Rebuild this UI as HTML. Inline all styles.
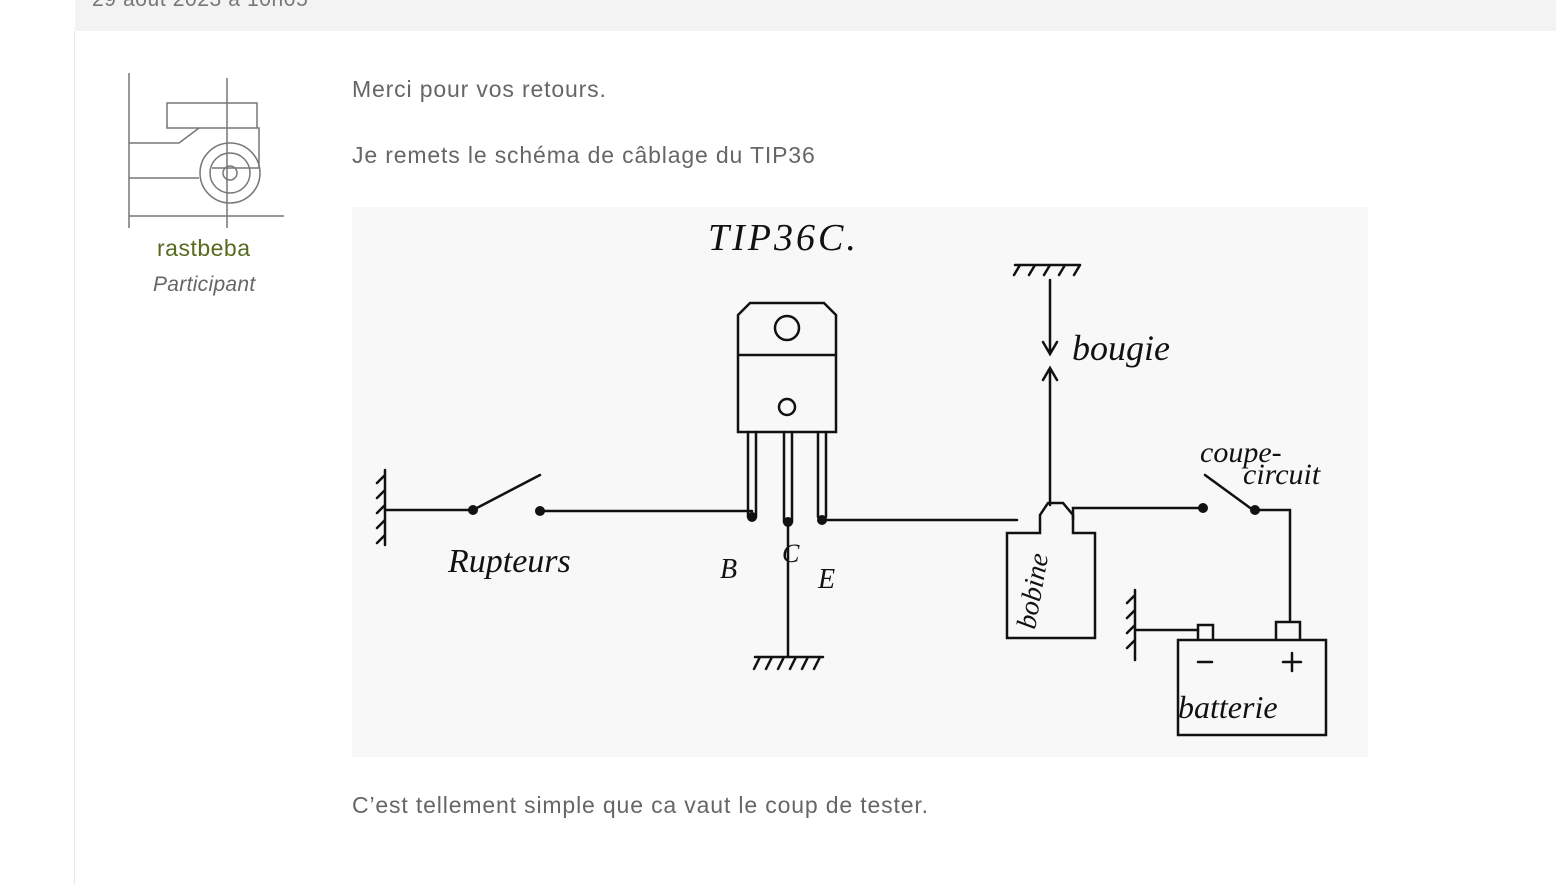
<!DOCTYPE html>
<html><head><meta charset="utf-8"><style>
body{margin:0;width:1556px;height:884px;background:#fff;font-family:"Liberation Sans",sans-serif;overflow:hidden;position:relative;color:#666}
.top{position:absolute;left:75px;top:0;width:1481px;height:31px;background:#f3f3f3}
.top span{position:absolute;left:17px;top:-12px;font-size:21px;color:#777;letter-spacing:0.6px}
.vline{position:absolute;left:74px;top:31px;width:1px;height:853px;background:#e6e6e6}
.t{position:absolute;font-size:23px;color:#666;letter-spacing:0.85px}
</style></head><body>
<div class="top"><span>29 août 2023 à 10h05</span></div>
<div class="vline"></div>
<svg style="position:absolute;left:127px;top:73px" width="158" height="158" viewBox="0 0 158 158">
<rect width="158" height="158" fill="#fff"/>
<g fill="none" stroke="#777" stroke-width="1.5">
<path d="M2 0v155M2 143h155M100 5v150M40 30h90v25H40z M2 70h50l20-15h60v40H85 M2 105h70"/>
<circle cx="103" cy="100" r="30"/><circle cx="103" cy="100" r="20"/><circle cx="103" cy="100" r="7"/>
</g></svg>
<div class="t" style="left:157px;top:235px;color:#556b1f;font-size:23px;letter-spacing:0.5px">rastbeba</div>
<div class="t" style="left:153px;top:273px;font-style:italic;font-size:21px;letter-spacing:0.3px">Participant</div>
<div class="t" style="left:352px;top:76px">Merci pour vos retours.</div>
<div class="t" style="left:352px;top:142px">Je remets le schéma de câblage du TIP36</div>
<div class="t" style="left:352px;top:792px">C’est tellement simple que ca vaut le coup de tester.</div>
<svg style="position:absolute;left:352px;top:207px" width="1016" height="550" viewBox="352 207 1016 550">
<rect x="352" y="207" width="1016" height="550" fill="#f8f8f8"/>
<g fill="none" stroke="#111" stroke-width="2.5" stroke-linecap="round">
<path d="M385 470v75M385 475l-8 8M385 490l-8 8M385 505l-8 8M385 520l-8 8M385 535l-8 8"/>
<path d="M385 510h88l67-35M540 511h212"/>
<path d="M738 432V315l12-12h74l12 12v117z M738 355h98"/>
<circle cx="787" cy="328" r="12"/><circle cx="787" cy="407" r="8"/>
<path d="M748 432v85M756 432v85M784 432v90M792 432v90M818 432v85M826 432v85"/>
<path d="M788 522v135M755 657h68M760 657l-6 12M772 657l-6 12M784 657l-6 12M796 657l-6 12M808 657l-6 12M820 657l-6 12"/>
<path d="M822 520h195"/>
<path d="M1007 533v105h88V533h-22v-18l-10-12h-15l-8 12v18z"/>
<path d="M1050 505V370M1043 380l7-12 7 12M1050 280v72M1043 342l7 12 7-12M1015 265h65M1020 265l-6 10M1035 265l-6 10M1050 265l-6 10M1065 265l-6 10M1080 265l-6 10"/>
<path d="M1073 520v-12h130M1205 475l48 35M1255 510h35v110"/>
<path d="M1178 640h148v95h-148z M1198 640v-15h15v15M1276 640v-18h24v18"/>
<path d="M1135 590v70M1135 595l-8 8M1135 610l-8 8M1135 625l-8 8M1135 640l-8 8M1135 630h63"/>
<path d="M1198 662h14M1283 662h18M1292 653v18"/>
</g>
<g fill="#111"><circle cx="473" cy="510" r="5"/><circle cx="540" cy="511" r="5"/><circle cx="752" cy="517" r="5"/><circle cx="788" cy="522" r="5"/><circle cx="822" cy="520" r="5"/><circle cx="1203" cy="508" r="5"/><circle cx="1255" cy="510" r="5"/></g>
<g font-family="Liberation Serif,serif" font-style="italic" fill="#111">
<text x="708" y="250" font-size="38" letter-spacing="3">TIP36C.</text>
<text x="448" y="572" font-size="34">Rupteurs</text>
<text x="720" y="578" font-size="28">B</text><text x="782" y="562" font-size="26">C</text><text x="818" y="588" font-size="28">E</text>
<text x="1072" y="360" font-size="36">bougie</text>
<text x="1200" y="462" font-size="30">coupe-</text><text x="1243" y="484" font-size="30">circuit</text>
<text x="1035" y="630" font-size="28" transform="rotate(-80 1035 630)">bobine</text>
<text x="1178" y="718" font-size="32">batterie</text>
</g>
</svg>
</body></html>
